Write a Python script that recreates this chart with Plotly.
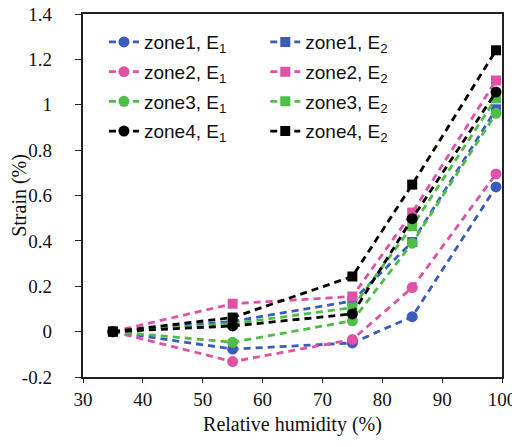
import plotly.graph_objects as go

humidity = [35, 55, 75, 85, 99]
zone1_E1 = [0, -0.077, -0.05, 0.066, 0.638]
zone2_E1 = [0, -0.132, -0.035, 0.194, 0.695]
zone3_E1 = [0, -0.047, 0.048, 0.39, 0.962]
zone4_E1 = [0, 0.025, 0.078, 0.498, 1.056]
zone1_E2 = [0, 0.045, 0.135, 0.395, 0.98]
zone2_E2 = [0, 0.123, 0.155, 0.525, 1.107]
zone3_E2 = [0, 0.035, 0.106, 0.465, 1.028]
zone4_E2 = [0, 0.062, 0.243, 0.648, 1.24]

x_ticks = [30, 40, 50, 60, 70, 80, 90, 100]
y_ticks = [-0.2, 0, 0.2, 0.4, 0.6, 0.8, 1, 1.2, 1.4]
y_tick_text = ["-0.2", "0", "0.2", "0.4", "0.6", "0.8", "1", "1.2", "1.4"]

BLUE = "#3b5bbd"
PINK = "#e052a6"
GREEN = "#4fbd48"
BLACK = "#000000"

series = [
    ("zone1, E<sub>1</sub>", zone1_E1, BLUE, "circle", "legend"),
    ("zone1, E<sub>2</sub>", zone1_E2, BLUE, "square", "legend2"),
    ("zone2, E<sub>1</sub>", zone2_E1, PINK, "circle", "legend"),
    ("zone2, E<sub>2</sub>", zone2_E2, PINK, "square", "legend2"),
    ("zone3, E<sub>1</sub>", zone3_E1, GREEN, "circle", "legend"),
    ("zone3, E<sub>2</sub>", zone3_E2, GREEN, "square", "legend2"),
    ("zone4, E<sub>1</sub>", zone4_E1, BLACK, "circle", "legend"),
    ("zone4, E<sub>2</sub>", zone4_E2, BLACK, "square", "legend2"),
]

fig = go.Figure()
for i, (name, vals, color, sym, leg) in enumerate(series):
    fig.add_trace(go.Scatter(
        x=humidity, y=vals, name=name, mode="lines+markers",
        line=dict(color=color, width=2.8, dash="7px,5px"),
        marker=dict(color=color, symbol=sym, size=11 if sym == "circle" else 10),
        legend=leg, legendgroup=f"g{i}",
    ))

legend_common = dict(
    font=dict(family="Liberation Sans, Arial, sans-serif", size=19, color="#111111"),
    bgcolor="rgba(0,0,0,0)", borderwidth=0, itemwidth=30,
    tracegroupgap=2, yanchor="top", xanchor="left", y=0.975,
    itemclick=False,
)

serif = "Liberation Serif, Times New Roman, serif"

fig.update_layout(
    width=512, height=439,
    margin=dict(l=75, r=18, t=6, b=70, autoexpand=False),
    paper_bgcolor="white", plot_bgcolor="white",
    showlegend=True,
    legend=dict(x=0.05, **legend_common),
    legend2=dict(x=0.435, **legend_common),
    xaxis=dict(
        range=[30, 100], tickvals=x_ticks, ticks="outside", ticklen=4,
        tickcolor="#222", tickwidth=1.2, automargin=False, ticklabeloverflow="allow",
        showline=True, linecolor="#222", linewidth=1.5, mirror=True,
        showgrid=False, zeroline=False,
        tickfont=dict(family=serif, size=19, color="#111"),
        title=dict(text="Relative humidity (%)",
                   font=dict(family=serif, size=20, color="#111"),
                   standoff=8),
    ),
    yaxis=dict(
        range=[-0.2, 1.4], tickvals=y_ticks,
        ticktext=[t + "\u00a0\u00a0" for t in y_tick_text],
        ticks="outside", ticklen=6, automargin=False, ticklabeloverflow="allow",
        tickcolor="#222", tickwidth=1.2, ticklabelstandoff=10,
        showline=True, linecolor="#222", linewidth=1.5, mirror=True,
        showgrid=False, zeroline=False,
        tickfont=dict(family=serif, size=19, color="#111"),
    ),
    annotations=[dict(
        text="Strain (%)", textangle=-90, xref="paper", yref="paper",
        x=-0.152, y=0.5, xanchor="center", yanchor="middle", showarrow=False,
        font=dict(family=serif, size=20, color="#111"),
    )],
)

fig.write_html("out.html")
